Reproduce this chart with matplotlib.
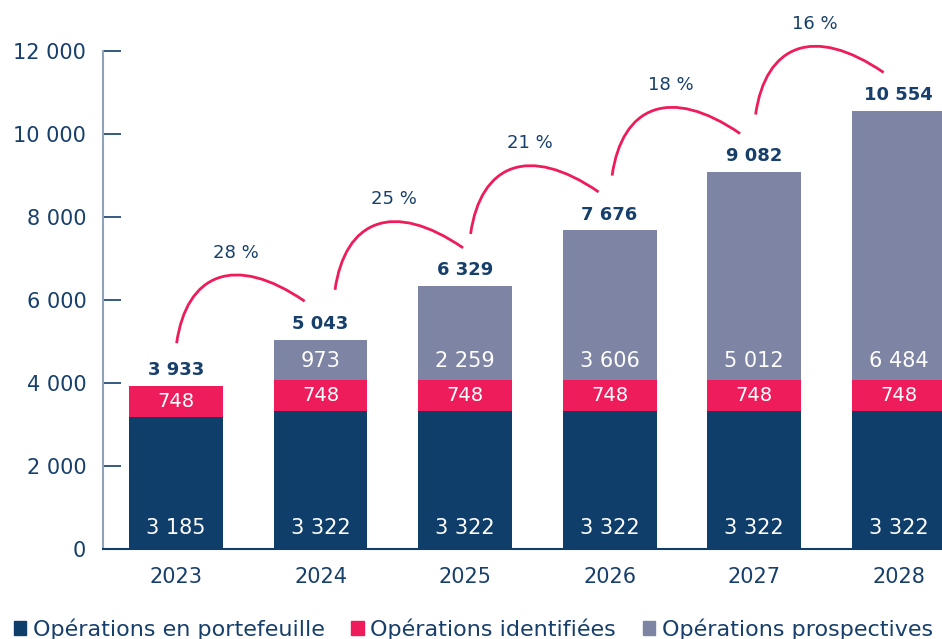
import matplotlib
matplotlib.use("Agg")
import matplotlib.pyplot as plt
from matplotlib.patches import Patch, PathPatch
from matplotlib.path import Path
from matplotlib import transforms
import numpy as np

years = ["2023", "2024", "2025", "2026", "2027", "2028"]
portefeuille = [3185, 3322, 3322, 3322, 3322, 3322]
identifiees = [748, 748, 748, 748, 748, 748]
prospectives = [0, 973, 2259, 3606, 5012, 6484]
totals = [3933, 5043, 6329, 7676, 9082, 10554]
growth = ["28 %", "25 %", "21 %", "18 %", "16 %"]
yticks = [0, 2000, 4000, 6000, 8000, 10000, 12000]
ytick_labels = ["0", "2 000", "4 000", "6 000", "8 000", "10 000", "12 000"]
legend_labels = ["Opérations en portefeuille", "Opérations identifiées", "Opérations prospectives"]

NAVY = "#0f3e6b"
PINK = "#ee1c5a"
GRAY = "#7e84a3"
TEXT = "#173f6b"
SPINE = "#8ea2b8"

def fmt(v):
    return f"{v:,}".replace(",", " ")

plt.rcParams['font.family'] = ['DejaVu Sans']

fig = plt.figure(figsize=(9.42, 6.39), dpi=100)
ax = fig.add_axes([103/942, 1 - 549/639, 1 - 103/942, (549 - 51)/639])

x = np.arange(len(years))
w = 0.65
ax.bar(x, portefeuille, w, color=NAVY, zorder=2)
bottom2 = np.array(portefeuille)
ax.bar(x, identifiees, w, bottom=bottom2, color=PINK, zorder=2)
bottom3 = bottom2 + np.array(identifiees)
ax.bar(x, prospectives, w, bottom=bottom3, color=GRAY, zorder=2)

ax.set_xlim(-0.505, 5.30)
ax.set_ylim(0, 12000)
ax.set_yticks(yticks)
ax.set_yticklabels(ytick_labels)
ax.set_xticks(x)
ax.set_xticklabels(years)

for s in ["top", "right"]:
    ax.spines[s].set_visible(False)
ax.spines["left"].set_color(SPINE)
ax.spines["left"].set_linewidth(1.5)
ax.spines["bottom"].set_color(NAVY)
ax.spines["bottom"].set_linewidth(1.5)
ax.tick_params(axis="y", direction="in", length=13, width=1.2, color=NAVY,
               labelsize=15, labelcolor=TEXT, pad=12)
ax.tick_params(axis="x", length=0, labelsize=15, labelcolor=TEXT, pad=13)

# value labels
for i in range(len(years)):
    ax.annotate(fmt(portefeuille[i]), (x[i], 0), xytext=(0, 15), textcoords="offset points",
                ha="center", va="center", color="white", fontsize=15, zorder=3)
    ax.text(x[i], bottom2[i] + identifiees[i] / 2, fmt(identifiees[i]), ha="center", va="center",
            color="white", fontsize=14, zorder=3)
    if prospectives[i] > 0:
        ax.annotate(fmt(prospectives[i]), (x[i], bottom3[i]), xytext=(0, 14), textcoords="offset points",
                    ha="center", va="center", color="white", fontsize=15, zorder=3)
    ax.annotate(fmt(totals[i]), (x[i], totals[i]), xytext=(0, 5), textcoords="offset points",
                ha="center", va="bottom", color=TEXT, fontsize=13, fontweight="bold", zorder=3)

# growth arcs (shape in pixels, anchored above the next bar)
end_off = [-0.11, -0.014, -0.076, -0.097, -0.104]
lift = 38.5
shape = np.array([[0, 0], [10, 70], [58, 90], [128, 42]], dtype=float)
for i, g in enumerate(growth):
    ex = x[i + 1] + end_off[i]
    ey = totals[i + 1]
    trans = fig.dpi_scale_trans + transforms.ScaledTranslation(ex, ey, ax.transData)
    verts = (shape - shape[-1] + np.array([0, lift])) / 100.0
    path = Path(verts, [Path.MOVETO, Path.CURVE4, Path.CURVE4, Path.CURVE4])
    patch = PathPatch(path, facecolor="none", edgecolor=PINK, lw=2.0, transform=trans,
                      clip_on=False, zorder=4)
    ax.add_patch(patch)
    peak = (np.array([59, 69]) - shape[-1] + np.array([0, lift])) / 100.0
    ax.text(peak[0], peak[1] + 0.215, g, transform=trans, ha="center", va="center",
            color=TEXT, fontsize=13, clip_on=False)

handles = [Patch(color=NAVY), Patch(color=PINK), Patch(color=GRAY)]
fig.legend(handles, legend_labels, loc="center left", bbox_to_anchor=(14/942, 1 - 629/639),
           ncol=3, frameon=False, fontsize=16, labelcolor=TEXT, handlelength=0.55, handleheight=0.55,
           handletextpad=0.3, columnspacing=1.2, borderaxespad=0, borderpad=0)

fig.savefig("out.png", dpi=100)
